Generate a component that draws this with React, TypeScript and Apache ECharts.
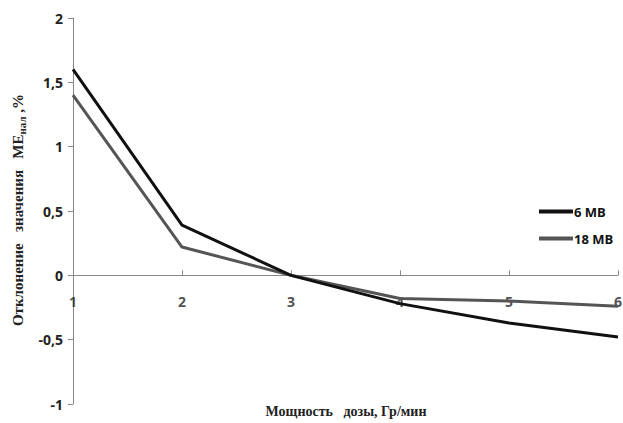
import React, { useEffect, useRef } from "react";
import * as echarts from "echarts";

const doseRates = [1, 2, 3, 4, 5, 6];
const series6MB = [1.6, 0.39, 0, -0.22, -0.37, -0.48];
const series18MB = [1.4, 0.22, 0, -0.18, -0.2, -0.24];
const seriesNames = ["6 MB", "18 MB"];
const xTickLabels = ["1", "2", "3", "4", "5", "6"];
const yTitleMain = "Отклонение   значения   МЕ";
const yTitleSub = "нал";
const yTitleTail = " ,%";
const xTitle = "Мощность   дозы, Гр/мин";

export default function App() {
  const ref = useRef<HTMLDivElement>(null);
  useEffect(() => {
    if (!ref.current) return;
    const chart = echarts.init(ref.current, undefined, { renderer: "svg" });
    const toPairs = (vals: number[]) => doseRates.map((x, i) => [x, vals[i]]);
    chart.setOption({
      animation: false,
      backgroundColor: "#ffffff",
      grid: { left: 73, right: 5, top: 18, bottom: 19, containLabel: false, outerBoundsMode: "none" },
      xAxis: {
        type: "value",
        min: 1,
        max: 6,
        interval: 1,
        axisLine: { onZero: true, lineStyle: { color: "#888", width: 1 } },
        axisTick: { show: true, inside: true, length: 5, lineStyle: { color: "#888" } },
        axisLabel: { show: false },
        splitLine: { show: false },
      },
      yAxis: {
        type: "value",
        min: -1,
        max: 2,
        interval: 0.5,
        axisLine: { show: true, onZero: false, lineStyle: { color: "#888", width: 1 } },
        axisTick: { show: true, length: 5, lineStyle: { color: "#888" } },
        axisLabel: {
          margin: 10,
          color: "#222",
          fontWeight: "bold",
          fontSize: 14,
          fontFamily: "Open Sans",
          formatter: (v: number) => String(v).replace(".", ","),
        },
        splitLine: { show: false },
      },
      legend: {
        orient: "vertical",
        left: 534,
        top: 200,
        itemWidth: 34,
        itemHeight: 4,
        itemGap: 14,
        icon: "rect",
        textStyle: { fontSize: 13, fontWeight: "bold", color: "#111", fontFamily: "Open Sans", padding: [0, 0, 0, -4] },
        data: seriesNames,
      },
      series: [
        {
          name: "xLabels",
          type: "scatter",
          data: doseRates.map((x, i) => ({ value: [x, 0], name: xTickLabels[i] })),
          symbolSize: 2,
          itemStyle: { color: "rgba(0,0,0,0)" },
          silent: true,
          z: 1,
          label: {
            show: true,
            position: "bottom",
            distance: 18,
            formatter: (p: any) => p.name,
            color: "#222",
            fontWeight: "bold",
            fontSize: 14,
            fontFamily: "Open Sans",
          },
          labelLayout: { hideOverlap: false },
        },
        {
          name: seriesNames[0],
          type: "line",
          data: toPairs(series6MB),
          showSymbol: false,
          lineStyle: { color: "#111", width: 3 },
          itemStyle: { color: "#111" },
          z: 3,
        },
        {
          name: seriesNames[1],
          type: "line",
          data: toPairs(series18MB),
          showSymbol: false,
          lineStyle: { color: "#555", width: 3 },
          itemStyle: { color: "#555" },
          z: 2,
        },
      ],
      graphic: [
        {
          type: "text",
          x: 18,
          y: 210,
          rotation: Math.PI / 2,
          style: {
            text: `{m|${yTitleMain}}{s|${yTitleSub}}{m|${yTitleTail}}`,
            align: "center",
            verticalAlign: "middle",
            rich: {
              m: { fontFamily: "Liberation Serif", fontWeight: "bold", fontSize: 15, fill: "#222" },
              s: { fontFamily: "Liberation Serif", fontWeight: "bold", fontSize: 11, fill: "#222", padding: [7, 0, 0, 0] },
            },
          },
        },
        {
          type: "text",
          x: 346,
          y: 411,
          style: {
            text: xTitle,
            align: "center",
            verticalAlign: "middle",
            fontFamily: "Liberation Serif",
            fontWeight: "bold",
            fontSize: 14,
            fill: "#222",
          },
        },
      ],
    });
    return () => chart.dispose();
  }, []);
  return <div ref={ref} style={{ position: "absolute", left: 0, top: 0, width: 623, height: 423 }} />;
}
